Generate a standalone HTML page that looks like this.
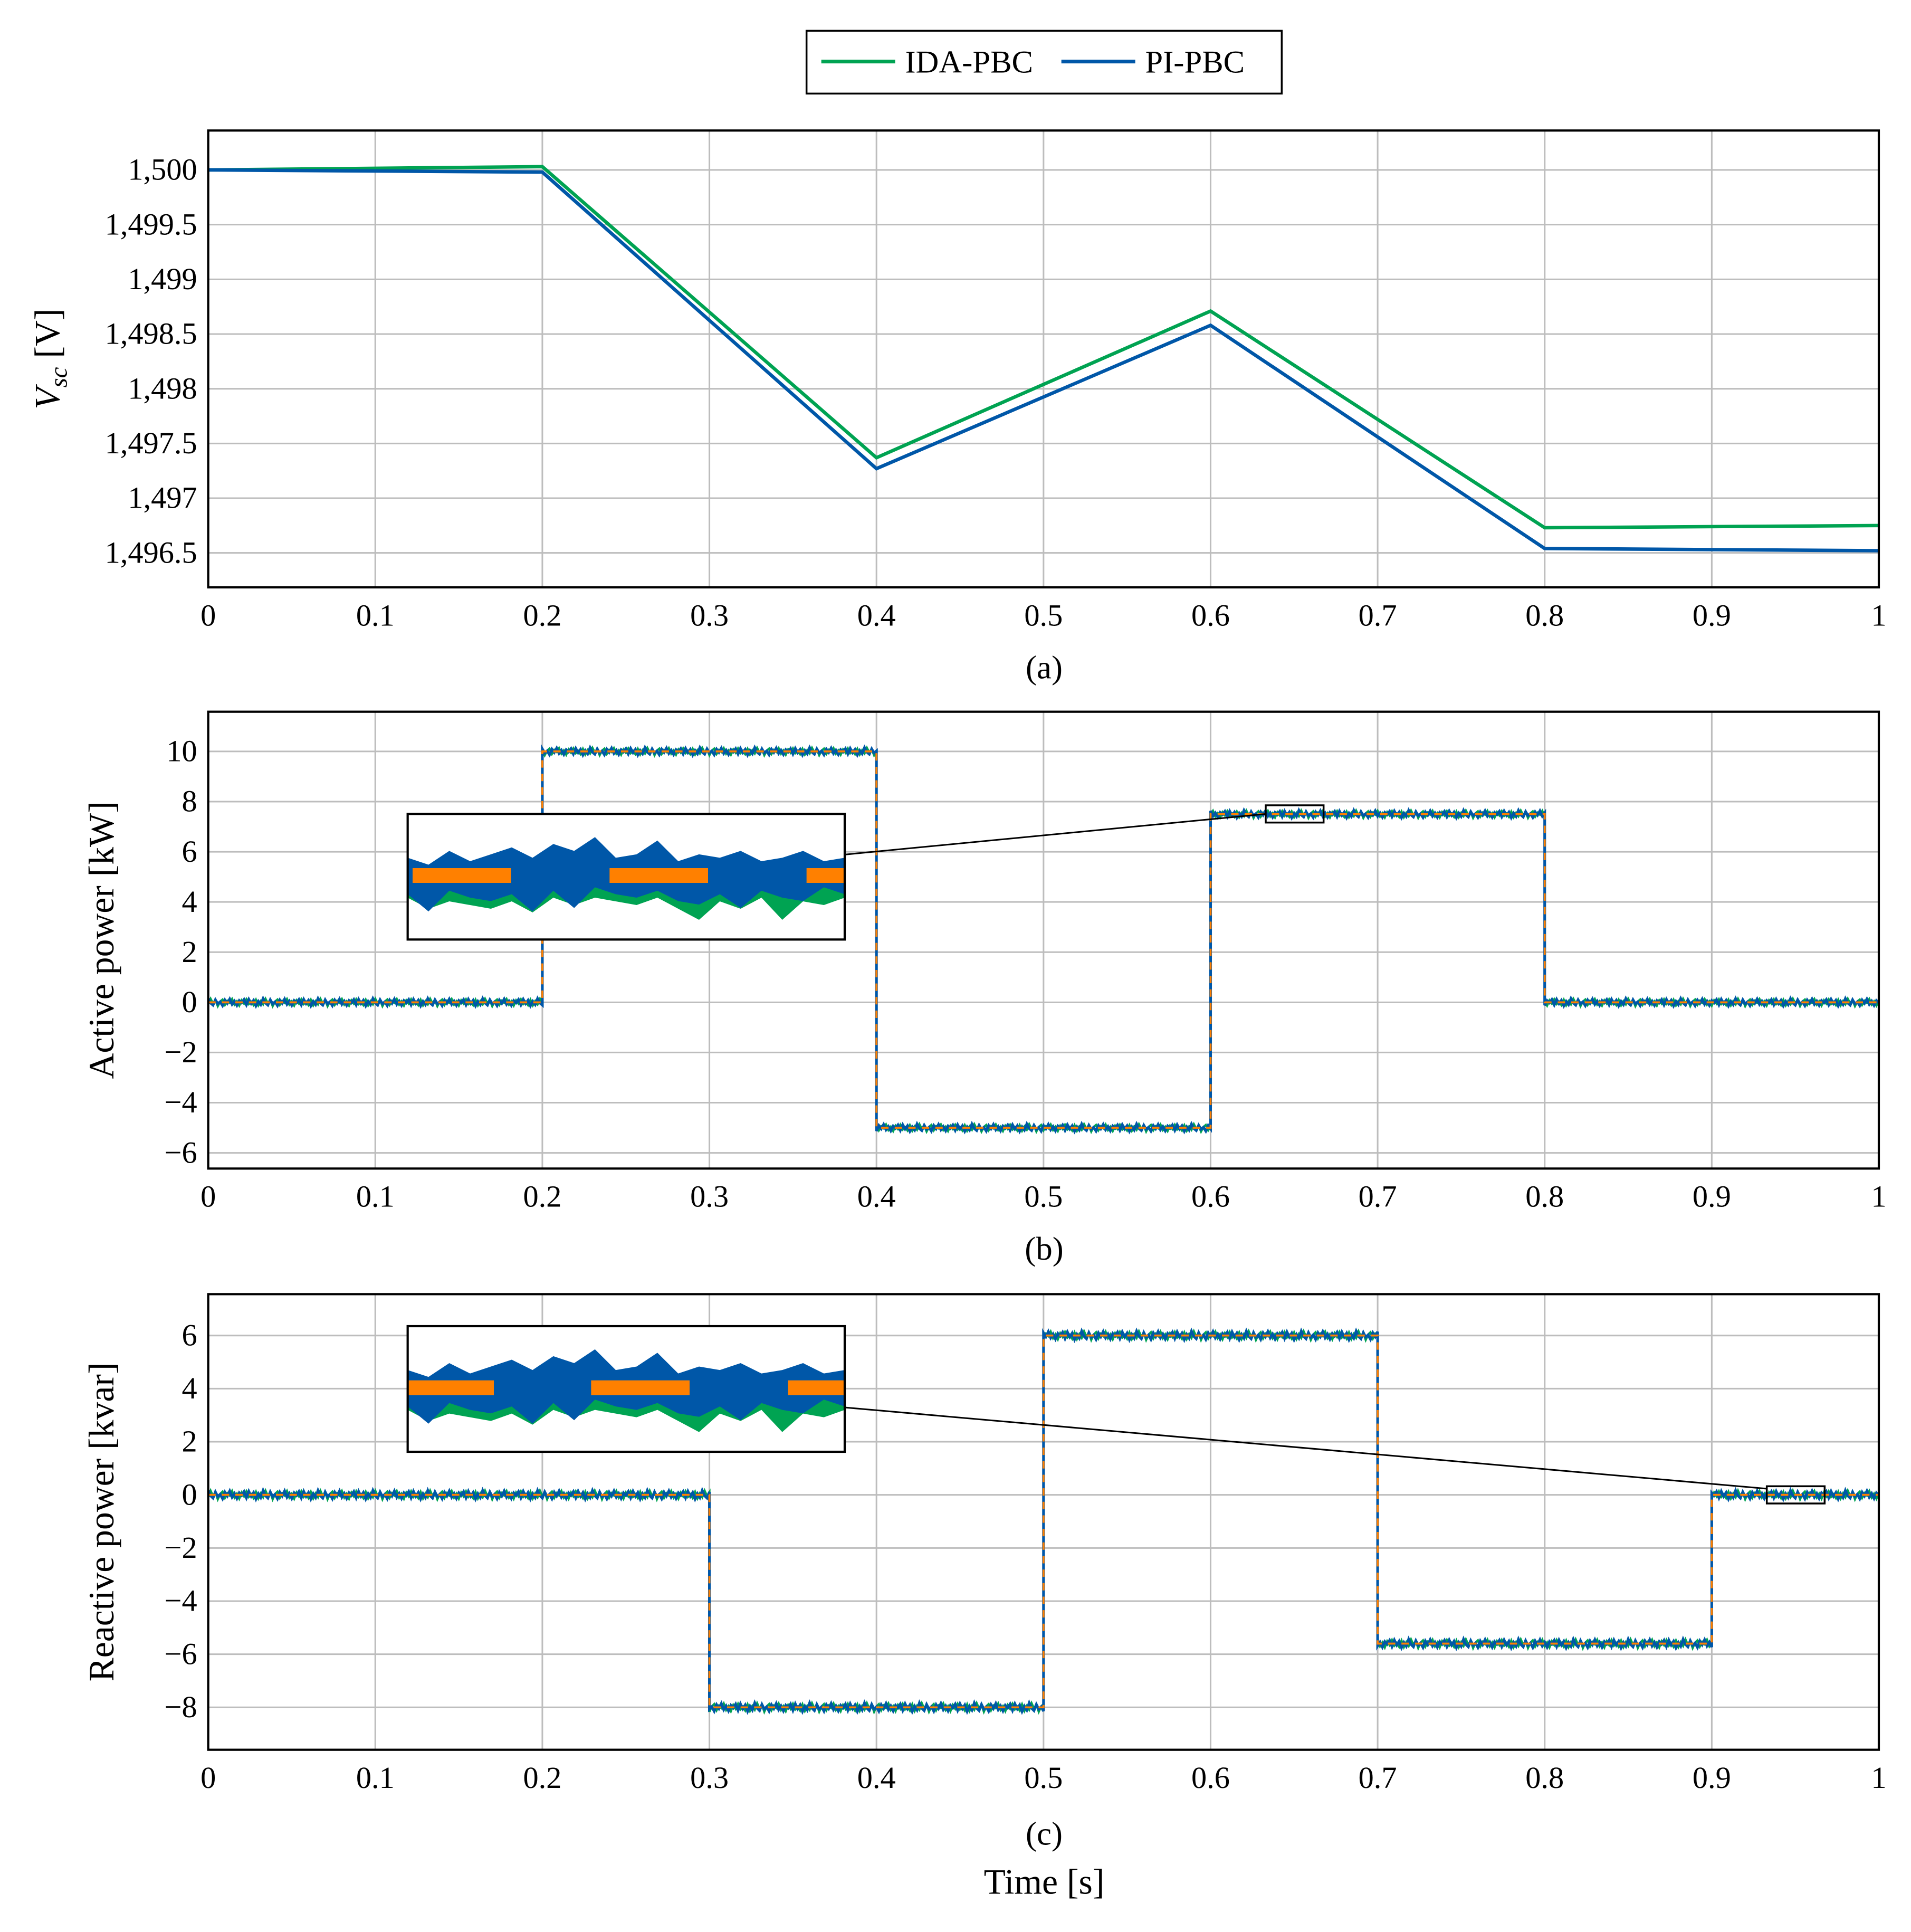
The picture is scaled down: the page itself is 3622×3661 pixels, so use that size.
<!DOCTYPE html>
<html><head><meta charset="utf-8"><style>body{margin:0;background:#fff}svg{display:block}text{font-family:"Liberation Serif",serif;fill:#000}</style></head>
<body>
<svg id="fig" xmlns="http://www.w3.org/2000/svg" width="3622" height="3661" viewBox="0 0 1552 1569"></svg>
<script>
// ---- data ----
const xTicks=[0,0.1,0.2,0.3,0.4,0.5,0.6,0.7,0.8,0.9,1];
const xTickLabels=["0","0.1","0.2","0.3","0.4","0.5","0.6","0.7","0.8","0.9","1"];
const vT=[0,0.2,0.4,0.6,0.8,1];
const vIDA=[1500,1500.03,1497.37,1498.71,1496.73,1496.75];
const vPI=[1500,1499.98,1497.27,1498.58,1496.54,1496.52];
const vTicks=[1496.5,1497,1497.5,1498,1498.5,1499,1499.5,1500];
const vTickLabels=["1,496.5","1,497","1,497.5","1,498","1,498.5","1,499","1,499.5","1,500"];
const pEdges=[0,0.2,0.4,0.6,0.8,1];
const pLevels=[0,10,-5,7.5,0];
const pTicks=[-6,-4,-2,0,2,4,6,8,10];
const qEdges=[0,0.3,0.5,0.7,0.9,1];
const qLevels=[0,-8,6,-5.6,0];
const qTicks=[-8,-6,-4,-2,0,2,4,6];
const noise=[0.1,-0.12,0.05,-0.08,0.14,-0.04,0.09,-0.15,0.03,0.11,-0.1,0.06,-0.02,0.13,-0.09,0.04,-0.13,0.08,-0.05,0.12,-0.07,0.02,-0.11];
const insTop=[0.3,0.1,0.5,0.2,0.4,0.6,0.3,0.7,0.5,0.9,0.3,0.4,0.8,0.2,0.4,0.3,0.5,0.2,0.3,0.5,0.2,0.3];
const insBotB=[0.4,0.9,0.3,0.5,0.6,0.4,0.9,0.3,0.8,0.2,0.4,0.5,0.3,0.6,0.7,0.4,0.8,0.3,0.5,0.6,0.2,0.4];
const insBotG=[0.6,0.9,0.7,0.8,0.9,0.7,1.0,0.6,0.8,0.6,0.7,0.8,0.6,0.9,1.2,0.7,0.9,0.6,1.2,0.7,0.8,0.6];
// ---- drawing ----
const NS="http://www.w3.org/2000/svg",svg=document.getElementById('fig');
function el(t,a,p){const e=document.createElementNS(NS,t);for(const k in a)e.setAttribute(k,a[k]);(p||svg).appendChild(e);return e;}
const X0=169,X1=1526;const sx=v=>X0+(X1-X0)*v;
const GREEN="#00a352",BLUE="#0057a8",ORANGE="#ff8000";
function axes(name,top,bot,sy,ticks,labels,ylabel,ylx,caption,capY){
  const g=el('g',{});
  xTicks.forEach(t=>{const l=el('line',{x1:sx(t),x2:sx(t),y1:top,y2:bot,stroke:'#bdbdbd','stroke-width':1.3},g);});
  ticks.forEach((t,i)=>{const l=el('line',{x1:X0,x2:X1,y1:sy(t),y2:sy(t),stroke:'#bdbdbd','stroke-width':1.3},g);
    const tx=el('text',{x:X0-9,y:sy(t)+8,'text-anchor':'end','font-size':25},g);tx.textContent=labels?labels[i]:(t<0?'−'+(-t):String(t));});
  xTicks.forEach((t,i)=>{const tx=el('text',{x:sx(t),y:bot+31,'text-anchor':'middle','font-size':25},g);tx.textContent=xTickLabels[i];});
  const c=el('text',{x:848,y:capY,'text-anchor':'middle','font-size':27},g);c.textContent=caption;
  const yl=el('text',{x:0,y:0,'text-anchor':'middle','font-size':29,transform:`translate(${ylx},${(top+bot)/2}) rotate(-90)`},g);yl.innerHTML=ylabel;
  return g;
}
function frame(g,top,bot){const r=el('rect',{x:X0,y:top,width:X1-X0,height:bot-top,fill:'none',stroke:'#000','stroke-width':1.8},g);}
// panel a
const syA=v=>138+(1500-v)/0.5*44.43;
const gA=axes('voltage',106,477,syA,vTicks,vTickLabels,'<tspan font-style="italic">V</tspan><tspan font-style="italic" font-size="20" dy="6">sc</tspan><tspan dy="-6"> [V]</tspan>',48,'(a)',551);
[[vIDA,GREEN,'ida-pbc-line'],[vPI,BLUE,'pi-pbc-line']].forEach(([d,c,n])=>{const p=el('polyline',{points:d.map((v,i)=>sx(vT[i])+','+syA(v)).join(' '),fill:'none',stroke:c,'stroke-width':2.8},gA);});
frame(gA,106,477);
// step panels
function stepPanel(name,top,bot,sy,ticks,edges,levels,ylabel,ylx,cap,capY,amp){
  const g=axes(name,top,bot,sy,ticks,null,ylabel,ylx,cap,capY);
  [[GREEN,3,1.8],[BLUE,7,2.2]].forEach(([c,off,sw],si)=>{
    const pts=[];let k=off;
    for(let i=0;i<levels.length;i++){
      const a=edges[i],b=edges[i+1],n=Math.round((b-a)*700);
      for(let j=0;j<=n;j++){const t=a+(b-a)*j/n;const nz=noise[(k++)%noise.length]*amp*(si?-1:1);pts.push(sx(t)+','+sy(levels[i]+nz));}
    }
    const p=el('polyline',{points:pts.join(' '),fill:'none',stroke:c,'stroke-width':sw},g);
  });
  const rp=[];for(let i=0;i<levels.length;i++){rp.push(sx(edges[i])+','+sy(levels[i]));rp.push(sx(edges[i+1])+','+sy(levels[i]));}
  const r=el('polyline',{points:rp.join(' '),fill:'none',stroke:ORANGE,'stroke-width':1.6,'stroke-dasharray':'6 5'},g);
  frame(g,top,bot);return g;
}
const syB=v=>814-v*40.75/2;
const gB=stepPanel('active-power',578,949,syB,pTicks,pEdges,pLevels,'Active power [kW]',92,'(b)',1023,1.0);
const syC=v=>1214-v*43.14/2;
const gC=stepPanel('reactive-power',1051,1421,syC,qTicks,qEdges,qLevels,'Reactive power [kvar]',92,'(c)',1498,1.1);
// insets
function inset(g,x,y,w,h,cy,segs,bx,by,lx1,ly1,lx2,ly2){
  const ig=el('g',{},g);
  el('rect',{x,y,width:w,height:h,fill:'#fff'},ig);
  const n=insTop.length,dx=w/(n-1);
  const gp=[],bp=[];
  for(let i=0;i<n;i++)gp.push((x+i*dx)+','+(cy-insTop[i]*22+3));
  for(let i=n-1;i>=0;i--)gp.push((x+i*dx)+','+(cy+insBotG[i]*30));
  for(let i=0;i<n;i++)bp.push((x+i*dx)+','+(cy-insTop[i]*28-6));
  for(let i=n-1;i>=0;i--)bp.push((x+i*dx)+','+(cy+insBotB[i]*28+4));
  el('polygon',{points:gp.join(' '),fill:GREEN},ig);el('polygon',{points:bp.join(' '),fill:BLUE},ig);
  segs.forEach(s=>el('rect',{x:s[0],y:cy-6,width:s[1]-s[0],height:12,fill:ORANGE},ig));
  el('rect',{x,y,width:w,height:h,fill:'none',stroke:'#000','stroke-width':1.8},ig);
  el('rect',{x:bx,y:by,width:47,height:14,fill:'none',stroke:'#000','stroke-width':1.5},ig);
  el('line',{x1:lx1,y1:ly1,x2:lx2,y2:ly2,stroke:'#000','stroke-width':1.3},ig);
}
inset(gB,331,661,355,102,711,[[335,415],[495,575],[655,686]],1028,654,686,694,1028,661);
inset(gC,331,1077,355,102,1127,[[331,401],[480,560],[640,686]],1435,1207,686,1143,1435,1209);
// x title
const xt=el('text',{x:848,y:1538,'text-anchor':'middle','font-size':29});xt.textContent='Time [s]';
// legend
const lg=el('g',{});
el('rect',{x:655,y:25,width:386,height:51,fill:'#fff',stroke:'#000','stroke-width':1.5},lg);
el('line',{x1:667,x2:727,y1:50,y2:50,stroke:GREEN,'stroke-width':3},lg);
const t1=el('text',{x:735,y:59,'font-size':26},lg);t1.textContent='IDA-PBC';
el('line',{x1:862,x2:922,y1:50,y2:50,stroke:BLUE,'stroke-width':3},lg);
const t2=el('text',{x:930,y:59,'font-size':26},lg);t2.textContent='PI-PBC';
</script>
</body></html>
